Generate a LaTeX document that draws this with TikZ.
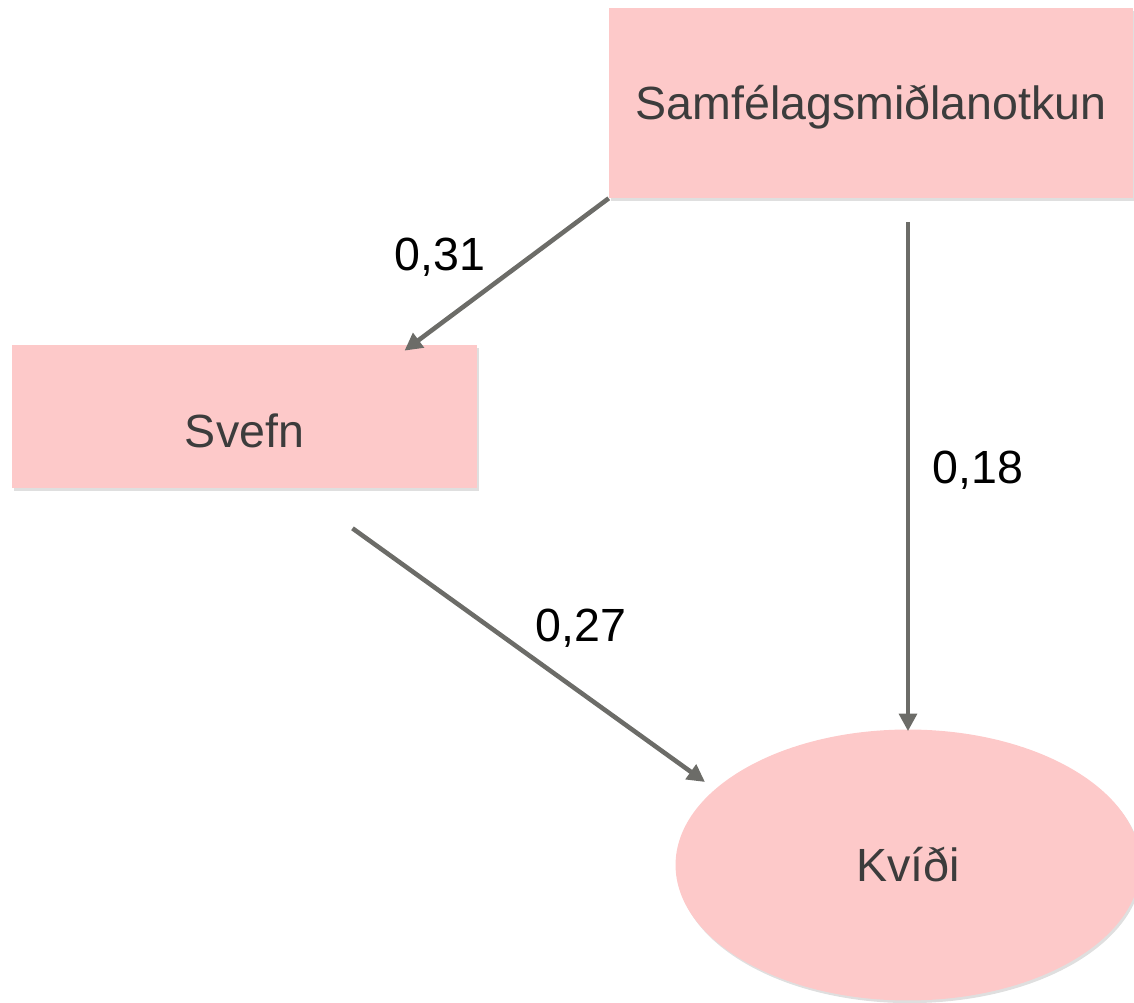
\documentclass[tikz,border=0pt]{standalone}
\usepackage{fontspec}
\setmainfont{Liberation Sans}
\usetikzlibrary{arrows.meta, calc, positioning, shapes.geometric, shadows}
\definecolor{bleikur}{HTML}{FDC9C9}
\definecolor{grar}{HTML}{6C6C68}
\definecolor{texti}{HTML}{3C3C3C}

\begin{document}
\begin{tikzpicture}[x=0.02cm, y=-0.02cm,
            breyta/.style={fill = bleikur, text = texti, inner sep = 0pt,
                drop shadow = {shadow xshift = 1pt, shadow yshift = -1.5pt, opacity = .25}},
            kassi/.style={breyta, rectangle, minimum width = 10.48cm, minimum height = 3.8cm},
            sporb/.style={breyta, ellipse, minimum width = 9.3cm, minimum height = 5.42cm},
            or/.style={draw = grar, line width = 2.6pt, -{Triangle[length=10pt, width=10pt]}},
            stuðull/.style={text = black}]
        \useasboundingbox (0,0) rectangle (1134,1003);
        \tikzset{every node/.style={font = \fontsize{26.5}{32}\selectfont}}
        \node[kassi] (notkun) at (871,103) {\raisebox{-.34cm}[0pt][0pt]{Samfélagsmiðlanotkun}};
        \node[kassi, minimum width = 9.3cm, minimum height = 2.86cm] (svefn) at (244.5,416.5) {\raisebox{-.63cm}[0pt][0pt]{Svefn}};
        \node[sporb] (kvidi) at (908,865) {Kvíði};
        % leiðir
        \draw[or] (notkun.south west) -- ($(svefn.north)+(160,6)$);
        \draw[or] ($(svefn.south)+(108,40)$) -- ($(kvidi.center)+(-203,-83)$);
        \draw[or] (kvidi.north |- 0,222) -- ($(kvidi.north)+(0,2)$);
        % stuðlar
        \node[stuðull] (s31) at (440,257) {0,31};
        \node[stuðull] (s18) at (978,470) {0,18};
        \node[stuðull] (s27) at (581,628) {0,27};
    \end{tikzpicture}
\end{document}
